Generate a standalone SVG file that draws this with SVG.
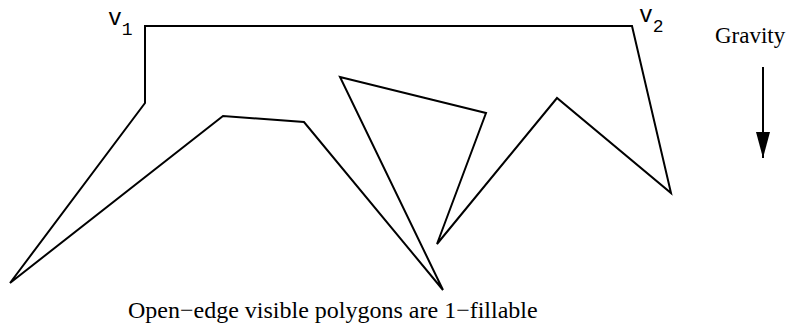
<svg xmlns="http://www.w3.org/2000/svg" width="789" height="328" viewBox="0 0 789 328">
<style>
.poly{fill:none;stroke:#000;stroke-width:2;stroke-linejoin:miter}
.lbl{font-family:"Liberation Serif","Times New Roman",serif;fill:#000}
.vl{font-family:"Liberation Mono","Courier New",monospace;fill:#000}
</style>
<defs>
<marker id="ah" markerWidth="26" markerHeight="14" refX="26" refY="7" orient="auto" markerUnits="userSpaceOnUse" viewBox="0 0 26 14">
<path d="M0,0 L26,7 L0,14 Z" fill="#000"/>
</marker>
</defs>
<g id="polygon">
<polygon class="poly" points="145,26 632,26 671,193 557,98 437,244 486,113 340,77 443,290 304,122 223,116 10,283 145,103"/>
</g>
<g id="label-v1"><text class="vl" x="108" y="25" font-size="23">v<tspan font-size="18" dy="10">1</tspan></text></g>
<g id="label-v2"><text class="vl" x="639" y="22" font-size="23">v<tspan font-size="18" dy="10">2</tspan></text></g>
<g id="gravity"><text class="lbl" x="715" y="43" font-size="23">Gravity</text></g>
<g id="connectors">
<line x1="763" y1="67" x2="763" y2="158" stroke="#000" stroke-width="2" marker-end="url(#ah)"/>
</g>
<g id="caption"><text class="lbl" x="128" y="318" font-size="24">Open−edge visible polygons are 1−fillable</text></g>
</svg>
